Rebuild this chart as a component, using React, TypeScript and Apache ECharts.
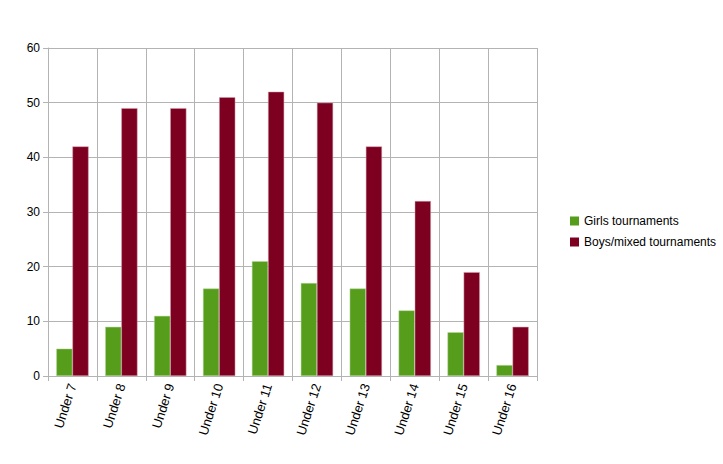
import React, { useEffect, useRef } from "react";
import * as echarts from "echarts";

const categories = ["Under 7", "Under 8", "Under 9", "Under 10", "Under 11", "Under 12", "Under 13", "Under 14", "Under 15", "Under 16"];
const girls = [5, 9, 11, 16, 21, 17, 16, 12, 8, 2];
const boys = [42, 49, 49, 51, 52, 50, 42, 32, 19, 9];
const seriesNames = ["Girls tournaments", "Boys/mixed tournaments"];

export default function App() {
  const ref = useRef<HTMLDivElement>(null);
  useEffect(() => {
    document.body.style.margin = "0";
    const chart = echarts.init(ref.current!, null, { renderer: "svg" });
    const font = "Liberation Sans, Arial, sans-serif";
    chart.setOption({
      animation: false,
      backgroundColor: "#ffffff",
      textStyle: { fontFamily: font },
      legend: {
        orient: "vertical",
        left: 565,
        top: 210,
        itemWidth: 9,
        itemHeight: 9,
        itemGap: 9,
        icon: "rect",
        itemStyle: { borderWidth: 0 },
        textStyle: { fontFamily: font, fontSize: 12, color: "#000" },
        data: seriesNames,
      },
      grid: { left: 48, top: 48, width: 489, height: 328, containLabel: false },
      xAxis: {
        type: "category",
        data: categories,
        axisLine: { lineStyle: { color: "#b3b3b3", width: 1 } },
        axisTick: { show: true, length: 5, lineStyle: { color: "#b3b3b3" } },
        splitLine: { show: true, lineStyle: { color: "#b3b3b3" } },
        axisLabel: { rotate: 72, fontSize: 13, color: "#000", fontFamily: font, margin: 8, interval: 0 },
      },
      yAxis: {
        type: "value",
        min: 0,
        max: 60,
        interval: 10,
        axisLine: { show: true, lineStyle: { color: "#b3b3b3" } },
        axisTick: { show: true, length: 5, lineStyle: { color: "#b3b3b3" } },
        splitLine: { show: true, lineStyle: { color: "#b3b3b3" } },
        axisLabel: { fontSize: 12, color: "#000", fontFamily: font, margin: 8 },
      },
      series: [
        {
          name: seriesNames[0],
          type: "bar",
          data: girls,
          barGap: "0%",
          barCategoryGap: "34%",
          itemStyle: { color: "#579d1c", borderColor: "#b7d49f", borderWidth: 0.5 },
        },
        {
          name: seriesNames[1],
          type: "bar",
          data: boys,
          barGap: "0%",
          barCategoryGap: "34%",
          itemStyle: { color: "#7e0021", borderColor: "#d0a0ab", borderWidth: 0.5 },
        },
      ],
    });
    return () => chart.dispose();
  }, []);
  return <div ref={ref} style={{ width: 723, height: 464 }} />;
}
